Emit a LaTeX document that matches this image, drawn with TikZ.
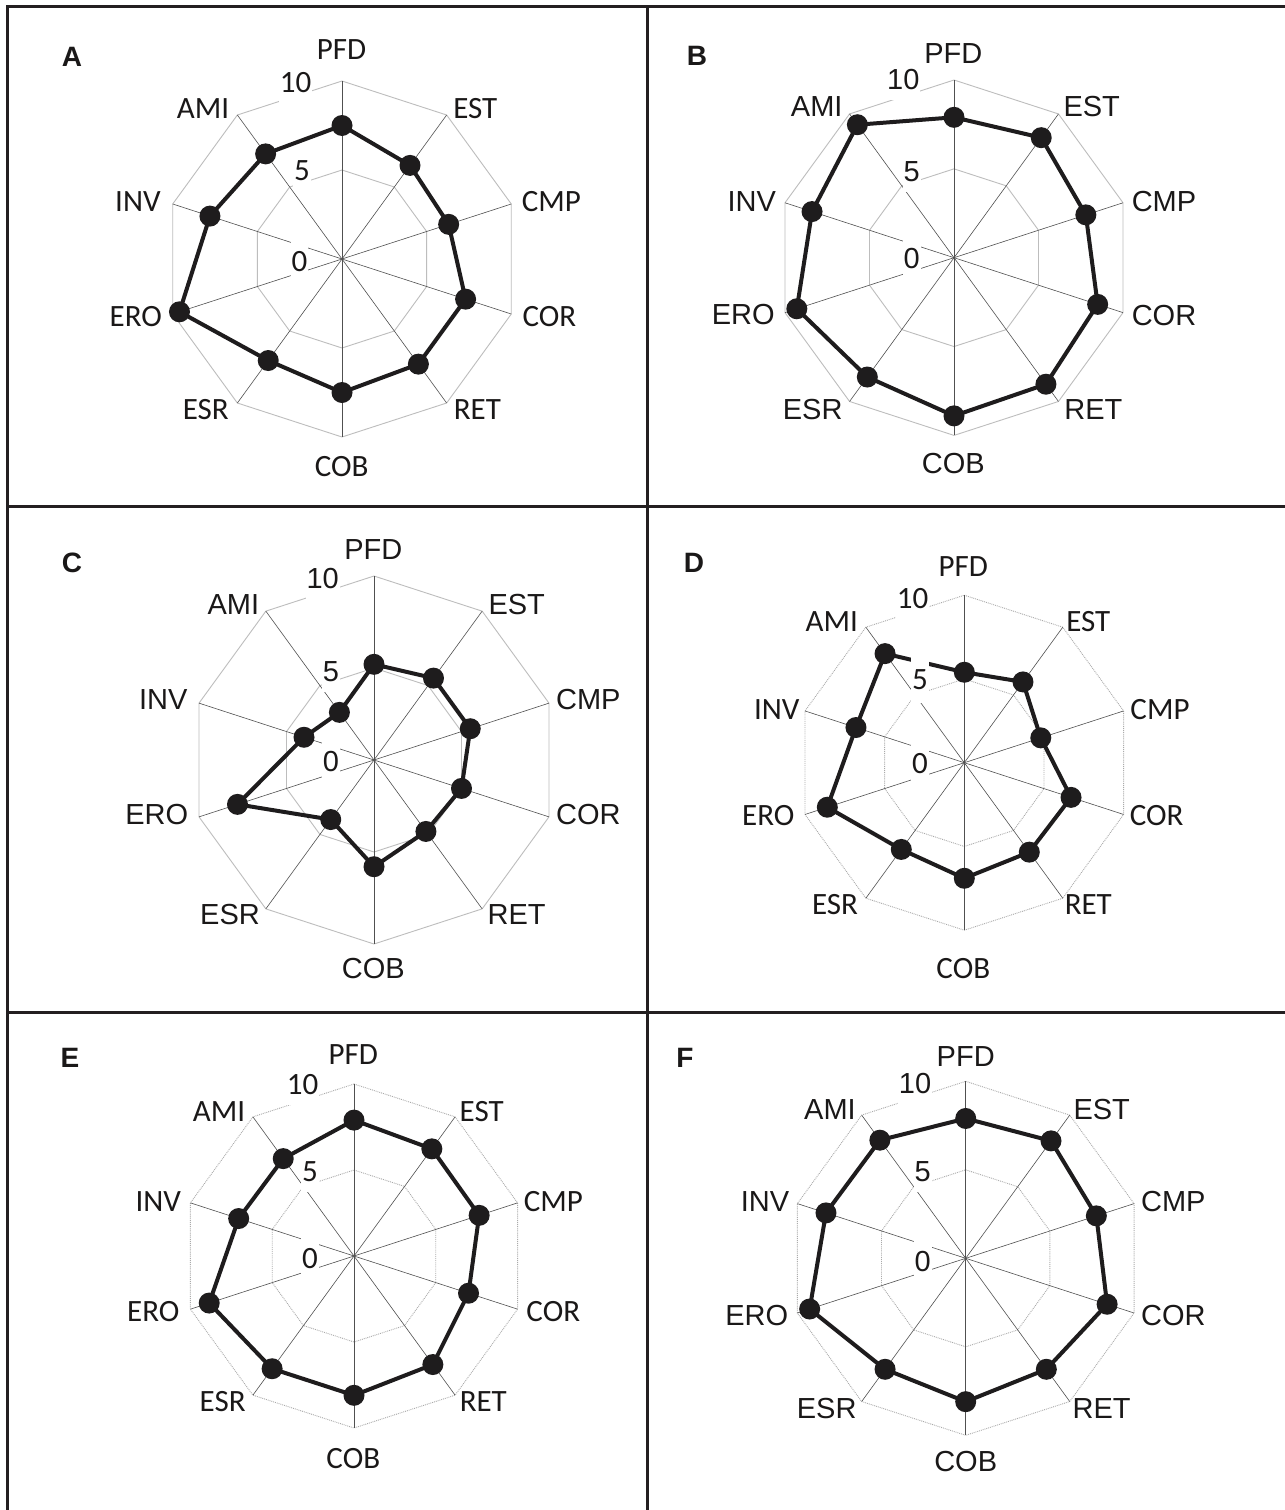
\documentclass[tikz,border=0pt]{standalone}
\usepackage{fontspec}
\setmainfont{Liberation Sans}
\newfontfamily\calibf{Carlito}
\newfontfamily\arialf{Liberation Sans}
\usetikzlibrary{calc}
\definecolor{framec}{HTML}{231F20}
\definecolor{ringc}{HTML}{BDBDBD}
\definecolor{spokec}{HTML}{505050}
\definecolor{datac}{HTML}{1E1C1D}
\definecolor{textc}{HTML}{1A1818}
\newcommand\fcal{\calibf\fontsize{31}{31}\selectfont}
\newcommand\farl{\arialf\fontsize{29}{29}\selectfont}
\tikzset{
  ring/.style={draw=ringc, line width=0.9pt},
  ringdot/.style={draw=ringc!90!black, line width=0.9pt, densely dotted},
  spoke/.style={draw=spokec, line width=0.6pt},
  series/.style={draw=datac, line width=4pt, line join=round},
  dot/.style={circle, fill=datac, inner sep=0pt, minimum size=21pt},
  ticklbl/.style={fill=white, text=textc, inner xsep=1pt, inner ysep=10pt},
  axlbl/.style={inner sep=0pt, text=textc},
  panellbl/.style={inner sep=0pt, text=textc, font=\arialf\bfseries\fontsize{28}{28}\selectfont},
  border/.style={draw=framec, line width=3pt},
}
% #1 name, #2 cx, #3 cy, #4 R, #5 ring style, #6 values
\newcommand\radar[6]{%
  \coordinate (#1-c) at (#2,#3);
  \foreach \f in {0.5,1}{%
    \draw[#5] ({#2},{#3-#4*\f}) \foreach \k in {1,...,9}{ -- ({#2+#4*\f*cos(36*\k-90)},{#3+#4*\f*sin(36*\k-90)})} -- cycle;
  }
  \foreach \k in {0,...,9}{%
    \coordinate (#1-v\k) at ({#2+#4*cos(36*\k-90)},{#3+#4*sin(36*\k-90)});
    \draw[spoke] (#1-c) -- (#1-v\k);
  }
  \foreach \v [count=\k from 0] in {#6}{%
    \coordinate (#1-d\k) at ({#2+#4*\v/10*cos(36*\k-90)},{#3+#4*\v/10*sin(36*\k-90)});
  }
  \draw[series] (#1-d0) \foreach \k in {1,...,9}{ -- (#1-d\k)} -- cycle;
  \foreach \k in {0,...,9}{\node[dot] (#1-m\k) at (#1-d\k) {};}
}
% #1 name, #2 style, #3..#8 positions of 10, 5, 0
\newcommand\ticks[8]{%
  \node[ticklbl,#2] (#1-t10) at (#3,#4) {10};
  \node[ticklbl,#2] (#1-t5) at (#5,#6) {5};
  \node[ticklbl,#2] (#1-t0) at (#7,#8) {0};
}
\begin{document}
\begin{tikzpicture}[x=1pt,y=-1pt]
\useasboundingbox (0,0) rectangle (1285,1510);
\fill[white] (0,0) rectangle (1285,1510);

% frame
\draw[border] (7,1510) -- (7,6) -- (1285,6);
\draw[border] (647.7,6) -- (647.7,1510);
\draw[border] (7,506) -- (1285,506);
\draw[border] (7,1012.7) -- (1285,1012.7);

% ---------- A ----------
\node[panellbl] (A-lbl) at (72,57) {A};
\radar{A}{342}{259}{178}{ring}{7.5,6.5,6.3,7.3,7.3,7.5,7.05,9.6,7.8,7.3}
\ticks{A}{font=\fcal}{295.5}{83}{302}{170.5}{299.6}{261.7}
\foreach \t/\x/\y in {PFD/341.6/50,EST/475.3/108.3,CMP/551.4/201.7,COR/549.4/316.7,RET/477.4/410,COB/341.6/466.7,ESR/205.8/410,ERO/135.8/316.7,INV/137.9/201.7,AMI/203/109}
  \node[axlbl,font=\fcal] (A-\t) at (\x,\y) {\t};

% ---------- B ----------
\node[panellbl] (B-lbl) at (697,56) {B};
\radar{B}{954}{257.7}{177.7}{ring}{7.9,8.35,7.8,8.5,8.8,8.9,8.3,9.3,8.4,9.25}
\ticks{B}{font=\farl}{903.3}{80}{911.7}{171.7}{911.7}{258.3}
\foreach \t/\x/\y in {PFD/953.3/53.3,EST/1091.7/106.7,CMP/1164/201.7,COR/1164/316,RET/1093.3/409.3,COB/953.3/463.3,ESR/812.7/409.3,ERO/743.3/315,INV/751.7/201.7,AMI/816.7/106.7}
  \node[axlbl,font=\farl] (B-\t) at (\x,\y) {\t};

% ---------- C ----------
\node[panellbl] (C-lbl) at (72,563) {C};
\radar{C}{374}{760}{184}{ring}{5.2,5.5,5.5,5.0,4.8,5.8,4.0,7.8,4.0,3.2}
\ticks{C}{font=\farl}{322.7}{578.3}{331}{671.7}{331}{761.7}
\foreach \t/\x/\y in {PFD/373.3/550,EST/516.7/605,CMP/588.3/700,COR/588.3/815,RET/516.7/915,COB/373.3/968.3,ESR/230/915,ERO/156.7/815,INV/163.3/700,AMI/233.3/605}
  \node[axlbl,font=\farl] (C-\t) at (\x,\y) {\t};

% ---------- D ----------
\node[panellbl] (D-lbl) at (694,563) {D};
\radar{D}{964.3}{762.7}{167.5}{ringdot}{5.4,5.96,4.8,6.7,6.6,6.9,6.4,8.6,6.8,8.05}
\ticks{D}{font=\fcal,inner ysep=13pt}{912.7}{598.3}{920}{680}{920}{763.3}
\foreach \t/\x/\y in {PFD/963.3/566.7,EST/1088.3/621.7,CMP/1160/710,COR/1156.7/816,RET/1088.3/905,COB/963.3/968.3,ESR/835/905,ERO/768.3/816,INV/776.7/710,AMI/831.7/621.7}
  \node[axlbl,font=\fcal] (D-\t) at (\x,\y) {\t};

% ---------- E ----------
\node[panellbl] (E-lbl) at (70,1058) {E};
\radar{E}{354}{1256}{172}{ringdot}{7.9,7.7,7.65,7.0,7.8,8.1,8.1,8.85,7.05,7.0}
\ticks{E}{font=\fcal}{302.7}{1085}{310}{1171.7}{310}{1258.3}
\foreach \t/\x/\y in {PFD/353.3/1055,EST/481.7/1111.7,CMP/553.3/1201.7,COR/553.3/1311.7,RET/483.3/1401.7,COB/353.3/1458.3,ESR/222.7/1401.7,ERO/153.3/1311.7,INV/158.3/1201.7,AMI/219/1111.7}
  \node[axlbl,font=\fcal] (E-\t) at (\x,\y) {\t};

% ---------- F ----------
\node[panellbl] (F-lbl) at (685,1058) {F};
\radar{F}{965.7}{1258.3}{177}{ringdot}{7.9,8.2,7.76,8.4,7.75,8.1,7.75,9.27,8.3,8.25}
\ticks{F}{font=\farl}{915}{1083.3}{922.7}{1171.7}{922.7}{1261.7}
\foreach \t/\x/\y in {PFD/965.7/1056.7,EST/1101.7/1110,CMP/1173.3/1201.7,COR/1173.3/1316,RET/1101.7/1408.3,COB/965.7/1461.7,ESR/826.7/1408.3,ERO/756.7/1316,INV/765/1201.7,AMI/830/1110}
  \node[axlbl,font=\farl] (F-\t) at (\x,\y) {\t};
\end{tikzpicture}
\end{document}
